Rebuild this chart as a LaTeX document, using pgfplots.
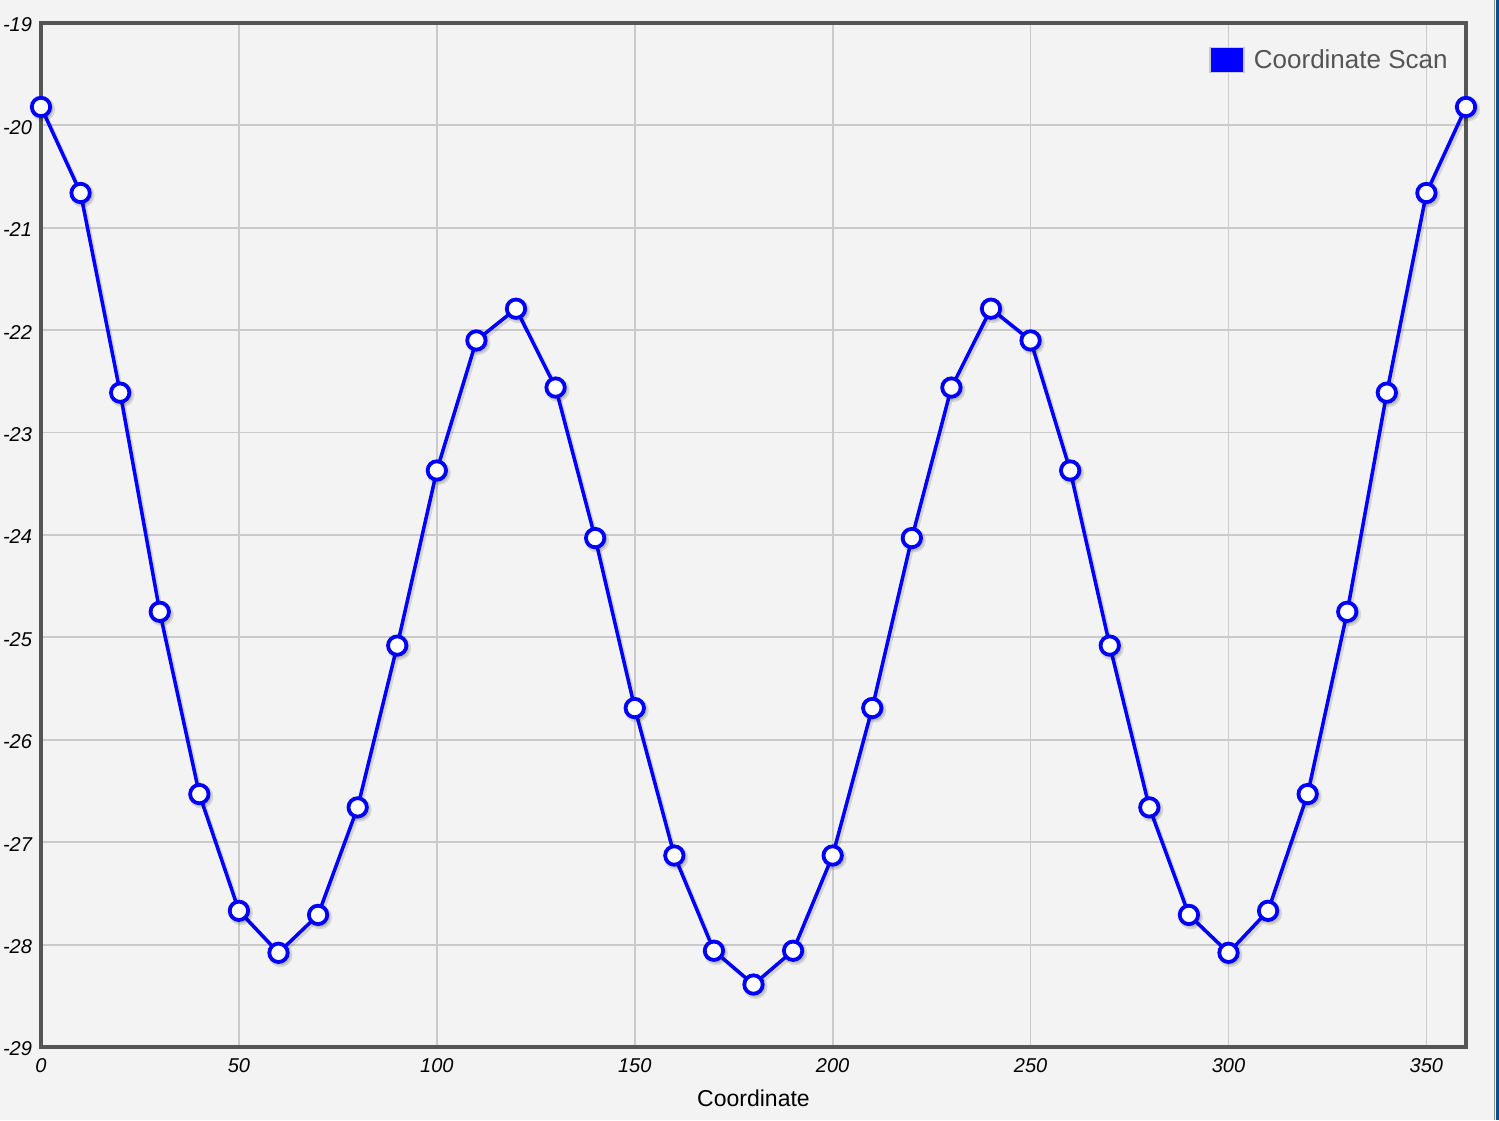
\documentclass[border=0pt]{standalone}
\usepackage{pgfplots}
\pgfplotsset{compat=1.18}
\usepackage{fontspec}
\setmainfont{Liberation Sans}
\definecolor{bgc}{HTML}{F3F3F3}
\definecolor{framec}{HTML}{555555}
\definecolor{gridc}{HTML}{CACACA}
\definecolor{linec}{HTML}{0000FF}
\definecolor{edgec}{HTML}{0B4F8A}
\pgfplotstableread{
x y
0 -19.82
10 -20.66
20 -22.61
30 -24.75
40 -26.53
50 -27.67
60 -28.08
70 -27.71
80 -26.66
90 -25.08
100 -23.37
110 -22.10
120 -21.79
130 -22.56
140 -24.03
150 -25.69
160 -27.13
170 -28.06
180 -28.39
190 -28.06
200 -27.13
210 -25.69
220 -24.03
230 -22.56
240 -21.79
250 -22.10
260 -23.37
270 -25.08
280 -26.66
290 -27.71
300 -28.08
310 -27.67
320 -26.53
330 -24.75
340 -22.61
350 -20.66
360 -19.82
}\scan
\begin{document}
\begin{tikzpicture}
\fill[bgc] (0pt,0pt) rectangle (749.5pt,560pt);
\useasboundingbox (0pt,0pt) rectangle (749.5pt,560pt);
\fill[edgec] (747.75pt,0pt) rectangle (749.5pt,560pt);
\draw[gridc!70!black, line width=0.5pt] (747pt,0pt) -- (747pt,560pt);
\begin{axis}[
  at={(20.5pt,36.5pt)}, anchor=south west,
  scale only axis, width=712.5pt, height=512pt,
  xmin=0, xmax=360, ymin=-29, ymax=-19,
  xtick={0,50,...,350}, ytick={-29,-28,...,-19},
  grid=major,
  major grid style={gridc, line width=0.9pt},
  axis line style={framec, line width=2pt},
  tick style={draw=none},
  /pgf/number format/assume math mode=true,
  ticklabel style={font=\itshape\fontsize{10}{12}\selectfont, text=black},
  yticklabel style={xshift=-1pt, yshift=-1pt},
  xticklabel style={yshift=-2pt},
  xlabel={Coordinate},
  xlabel style={font=\fontsize{11.5}{13}\selectfont, yshift=-2pt},
  legend style={at={(1,1)}, anchor=north east, xshift=-6pt, yshift=-10pt,
    draw=none, fill=none, font=\fontsize{13}{15}\selectfont, text=framec,
    inner sep=1pt, cells={anchor=west}},
  legend image code/.code={\draw[gridc, line width=0.8pt, fill=linec] (0pt,-6pt) rectangle (17pt,6.5pt);\path (19pt,0pt);},
  axis background/.style={fill=bgc},
]
\addplot[black, opacity=0.12, line width=2pt, mark=*, mark size=5pt,
  mark options={fill=black, draw=black, opacity=0.12}, shift={(1pt,-1.2pt)}, forget plot]
  table[x=x,y=y] {\scan};
\addplot[linec, line width=1.75pt, mark=*, mark size=4.6pt,
  mark options={fill=white, draw=linec, line width=1.9pt}]
  table[x=x,y=y] {\scan};
\addlegendentry{Coordinate Scan}
\end{axis}
\end{tikzpicture}
\end{document}
